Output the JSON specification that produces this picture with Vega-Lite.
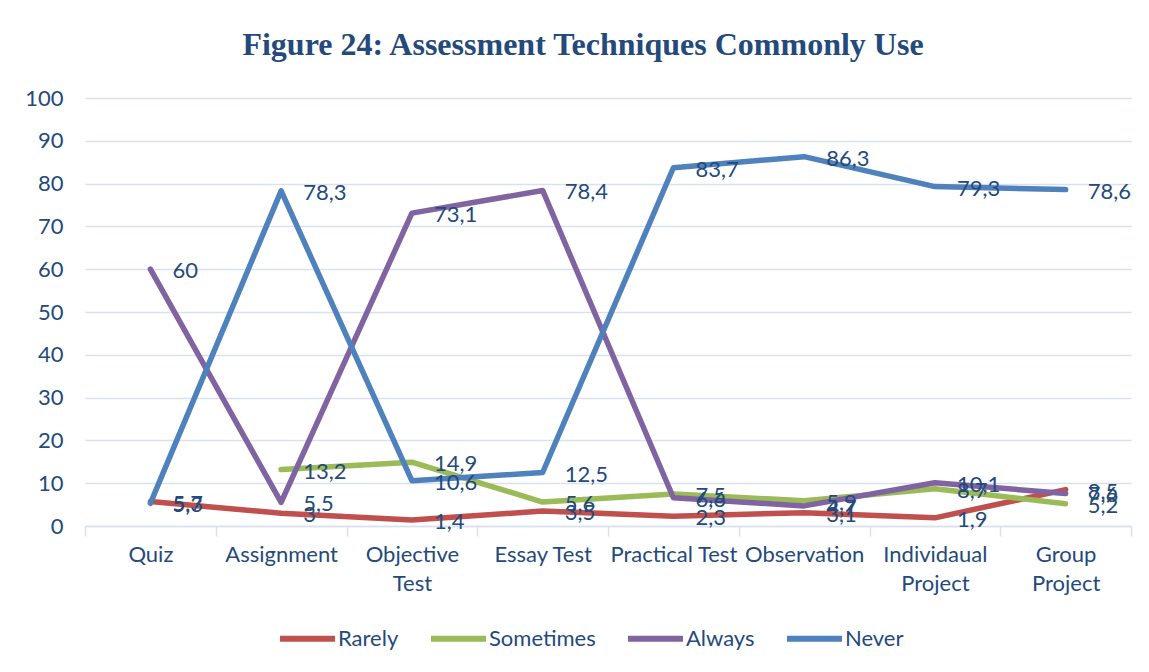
{
  "$schema": "https://vega.github.io/schema/vega-lite/v6.json",
  "width": 1046,
  "height": 428,
  "autosize": "none",
  "padding": {"left": 85, "top": 98, "right": 18, "bottom": 146},
  "background": "white",
  "title": {
    "text": "Figure 24: Assessment Techniques Commonly Use",
    "font": "Liberation Serif",
    "fontSize": 32,
    "fontWeight": "bold",
    "color": "#244A7C",
    "anchor": "middle",
    "dx": -25,
    "offset": 25
  },
  "data": {
    "values": [
      {"technique": "Quiz", "series": "Rarely", "value": 5.7},
      {"technique": "Assignment", "series": "Rarely", "value": 3},
      {"technique": "Objective Test", "series": "Rarely", "value": 1.4},
      {"technique": "Essay Test", "series": "Rarely", "value": 3.5},
      {"technique": "Practical Test", "series": "Rarely", "value": 2.3},
      {"technique": "Observation", "series": "Rarely", "value": 3.1},
      {"technique": "Individaual Project", "series": "Rarely", "value": 1.9},
      {"technique": "Group Project", "series": "Rarely", "value": 8.5},
      {"technique": "Assignment", "series": "Sometimes", "value": 13.2},
      {"technique": "Objective Test", "series": "Sometimes", "value": 14.9},
      {"technique": "Essay Test", "series": "Sometimes", "value": 5.6},
      {"technique": "Practical Test", "series": "Sometimes", "value": 7.5},
      {"technique": "Observation", "series": "Sometimes", "value": 5.9},
      {"technique": "Individaual Project", "series": "Sometimes", "value": 8.7},
      {"technique": "Group Project", "series": "Sometimes", "value": 5.2},
      {"technique": "Quiz", "series": "Always", "value": 60},
      {"technique": "Assignment", "series": "Always", "value": 5.5},
      {"technique": "Objective Test", "series": "Always", "value": 73.1},
      {"technique": "Essay Test", "series": "Always", "value": 78.4},
      {"technique": "Practical Test", "series": "Always", "value": 6.6},
      {"technique": "Observation", "series": "Always", "value": 4.7},
      {"technique": "Individaual Project", "series": "Always", "value": 10.1},
      {"technique": "Group Project", "series": "Always", "value": 7.6},
      {"technique": "Quiz", "series": "Never", "value": 5.3},
      {"technique": "Assignment", "series": "Never", "value": 78.3},
      {"technique": "Objective Test", "series": "Never", "value": 10.6},
      {"technique": "Essay Test", "series": "Never", "value": 12.5},
      {"technique": "Practical Test", "series": "Never", "value": 83.7},
      {"technique": "Observation", "series": "Never", "value": 86.3},
      {"technique": "Individaual Project", "series": "Never", "value": 79.3},
      {"technique": "Group Project", "series": "Never", "value": 78.6}
    ]
  },
  "encoding": {
    "x": {
      "field": "technique",
      "type": "nominal",
      "sort": ["Quiz", "Assignment", "Objective Test", "Essay Test", "Practical Test", "Observation", "Individaual Project", "Group Project"],
      "scale": {"type": "band", "paddingInner": 0, "paddingOuter": 0},
      "axis": {
        "title": null,
        "labelAngle": 0,
        "grid": false,
        "tickBand": "extent",
        "ticks": true,
        "tickSize": 10,
        "tickColor": "#D9E1F0",
        "tickWidth": 1.5,
        "domainColor": "#D9E1F0",
        "domainWidth": 1.5,
        "labelFont": "Lato",
        "labelFontSize": 22,
        "labelColor": "#244A7C",
        "labelPadding": 8,
        "labelLineHeight": 29,
        "labelExpr": "indexof(['Objective Test','Individaual Project','Group Project'], datum.value) >= 0 ? split(datum.value, ' ') : datum.value"
      }
    },
    "y": {
      "field": "value",
      "type": "quantitative",
      "scale": {"domain": [0, 100]},
      "axis": {
        "title": null,
        "values": [0, 10, 20, 30, 40, 50, 60, 70, 80, 90, 100],
        "grid": true,
        "gridColor": "#D9E1F0",
        "gridWidth": 1.5,
        "domain": false,
        "ticks": false,
        "labelFont": "Lato",
        "labelFontSize": 22,
        "labelColor": "#244A7C",
        "labelPadding": 22
      }
    },
    "color": {
      "field": "series",
      "type": "nominal",
      "scale": {
        "domain": ["Rarely", "Sometimes", "Always", "Never"],
        "range": ["#C0504D", "#9BBB59", "#8064A2", "#4F81BD"]
      },
      "legend": {
        "title": null,
        "orient": "none",
        "direction": "horizontal",
        "legendX": 192,
        "legendY": 510,
        "symbolType": "stroke",
        "symbolSize": 3025,
        "symbolStrokeWidth": 6,
        "labelFont": "Lato",
        "labelFontSize": 22,
        "labelColor": "#244A7C",
        "labelOffset": 0,
        "columnPadding": 20
      }
    }
  },
  "layer": [
    {
      "mark": {"type": "line", "strokeWidth": 5.5, "strokeJoin": "round", "strokeCap": "round"}
    },
    {
      "mark": {"type": "text", "align": "left", "baseline": "middle", "dx": 22, "dy": 2, "font": "Lato", "fontSize": 22, "color": "#244A7C"},
      "encoding": {
        "text": {"field": "value", "type": "quantitative", "format": ".3~g"},
        "color": {"value": "#244A7C"}
      }
    }
  ],
  "config": {
    "view": {"stroke": null},
    "locale": {"number": {"decimal": ",", "thousands": ".", "grouping": [3], "currency": ["", ""]}}
  }
}
